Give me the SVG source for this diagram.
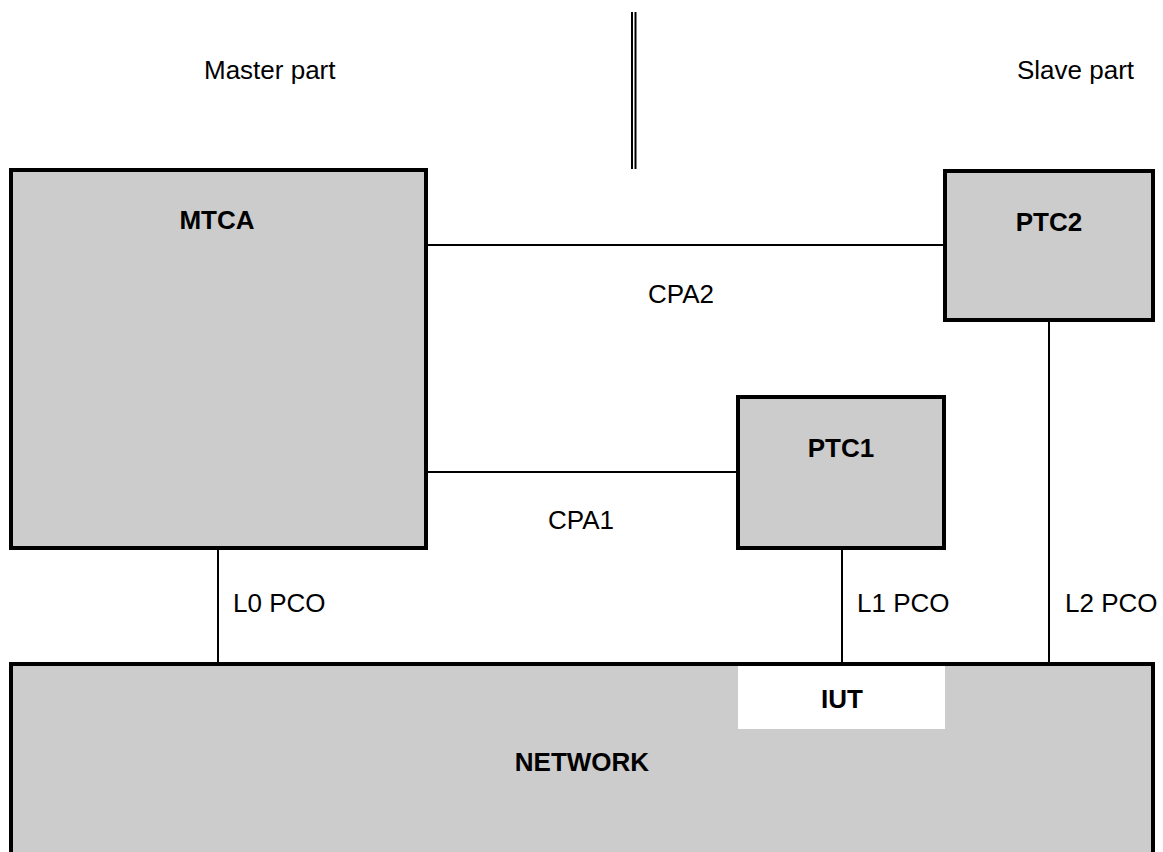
<svg xmlns="http://www.w3.org/2000/svg" width="1163" height="852" viewBox="0 0 1163 852">
<style>
.box{fill:#cccccc;stroke:#000;stroke-width:4}
.ln{stroke:#000;stroke-width:2;fill:none}
.t{font-family:"Liberation Sans",Arial,sans-serif;font-size:26px;fill:#000}
.b{font-family:"Liberation Sans",Arial,sans-serif;font-size:26px;font-weight:bold;fill:#000;text-anchor:middle}
</style>
<rect width="1163" height="852" fill="#fff"/>
<g id="divider">
<line class="ln" x1="632" y1="12" x2="632" y2="169"/>
<line class="ln" x1="635.5" y1="12" x2="635.5" y2="169"/>
</g>
<g id="labels">
<text class="t" x="204" y="79">Master part</text>
<text class="t" x="1017" y="79">Slave part</text>
</g>
<g id="connectors">
<line class="ln" x1="428" y1="245" x2="943" y2="245"/>
<line class="ln" x1="428" y1="472" x2="736" y2="472"/>
<line class="ln" x1="218" y1="550" x2="218" y2="662"/>
<line class="ln" x1="842" y1="550" x2="842" y2="662"/>
<line class="ln" x1="1049" y1="322" x2="1049" y2="662"/>
<text class="t" x="648" y="303">CPA2</text>
<text class="t" x="548" y="529">CPA1</text>
<text class="t" x="233" y="612">L0 PCO</text>
<text class="t" x="857" y="612">L1 PCO</text>
<text class="t" x="1065" y="612">L2 PCO</text>
</g>
<g id="network">
<rect class="box" x="11" y="664" width="1142" height="240"/>
<text class="b" x="582" y="771">NETWORK</text>
</g>
<g id="iut">
<rect x="738" y="666" width="207" height="63" fill="#fff"/>
<text class="b" x="842" y="708">IUT</text>
</g>
<g id="mtca">
<rect class="box" x="11" y="170" width="415" height="378"/>
<text class="b" x="217" y="229">MTCA</text>
</g>
<g id="ptc1">
<rect class="box" x="738" y="397" width="206" height="151"/>
<text class="b" x="841" y="457">PTC1</text>
</g>
<g id="ptc2">
<rect class="box" x="945" y="171" width="208" height="149"/>
<text class="b" x="1049" y="231">PTC2</text>
</g>
</svg>
